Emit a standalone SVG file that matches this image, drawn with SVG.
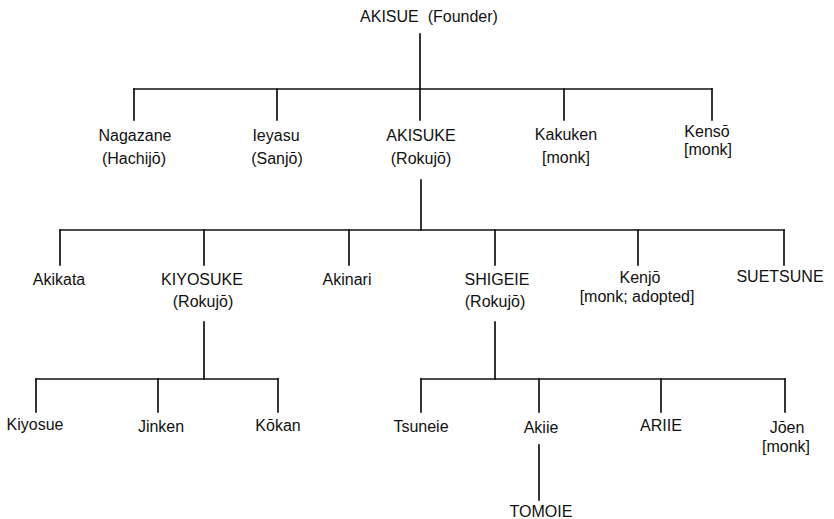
<svg xmlns="http://www.w3.org/2000/svg" width="834" height="519" viewBox="0 0 834 519">
<style>
text{font-family:"Liberation Sans",Arial,sans-serif;font-size:16px;fill:#111;text-anchor:middle}
.c line{stroke:#111;stroke-width:1.7;stroke-linecap:square}
</style>
<rect width="834" height="519" fill="#fff"/>
<g class="c" id="connectors">
<line x1="420" y1="34" x2="420" y2="89"/>
<line x1="134" y1="89" x2="712" y2="89"/>
<line x1="134" y1="89" x2="134" y2="120"/>
<line x1="277" y1="89" x2="277" y2="120"/>
<line x1="420" y1="89" x2="420" y2="120"/>
<line x1="564" y1="89" x2="564" y2="120"/>
<line x1="712" y1="89" x2="712" y2="120"/>
<line x1="421" y1="180" x2="421" y2="230"/>
<line x1="60" y1="230" x2="784" y2="230"/>
<line x1="60" y1="230" x2="60" y2="265"/>
<line x1="204" y1="230" x2="204" y2="265"/>
<line x1="349" y1="230" x2="349" y2="265"/>
<line x1="495" y1="230" x2="495" y2="265"/>
<line x1="638" y1="230" x2="638" y2="265"/>
<line x1="784" y1="230" x2="784" y2="265"/>
<line x1="204" y1="322" x2="204" y2="379"/>
<line x1="36" y1="379" x2="278" y2="379"/>
<line x1="36" y1="379" x2="36" y2="412"/>
<line x1="158" y1="379" x2="158" y2="412"/>
<line x1="278" y1="379" x2="278" y2="412"/>
<line x1="495" y1="322" x2="495" y2="379"/>
<line x1="421" y1="379" x2="785" y2="379"/>
<line x1="421" y1="379" x2="421" y2="412"/>
<line x1="539" y1="379" x2="539" y2="412"/>
<line x1="661" y1="379" x2="661" y2="412"/>
<line x1="785" y1="379" x2="785" y2="412"/>
<line x1="539" y1="445" x2="539" y2="500"/>
</g>
<g id="akisue"><text x="429" y="22" xml:space="preserve">AKISUE  (Founder)</text></g>
<g id="nagazane"><text x="135" y="141">Nagazane</text><text x="134" y="164">(Hachijō)</text></g>
<g id="ieyasu"><text x="276" y="141">Ieyasu</text><text x="277" y="164">(Sanjō)</text></g>
<g id="akisuke"><text x="421" y="141">AKISUKE</text><text x="421" y="164">(Rokujō)</text></g>
<g id="kakuken"><text x="566" y="140">Kakuken</text><text x="566" y="163">[monk]</text></g>
<g id="kenso"><text x="707" y="137">Kensō</text><text x="708" y="155">[monk]</text></g>
<g id="akikata"><text x="59" y="285">Akikata</text></g>
<g id="kiyosuke"><text x="202" y="285">KIYOSUKE</text><text x="203" y="307">(Rokujō)</text></g>
<g id="akinari"><text x="347" y="285">Akinari</text></g>
<g id="shigeie"><text x="497" y="285">SHIGEIE</text><text x="495" y="307">(Rokujō)</text></g>
<g id="kenjo"><text x="640" y="283">Kenjō</text><text x="637" y="302">[monk; adopted]</text></g>
<g id="suetsune"><text x="780" y="282">SUETSUNE</text></g>
<g id="kiyosue"><text x="35" y="430">Kiyosue</text></g>
<g id="jinken"><text x="161" y="432">Jinken</text></g>
<g id="kokan"><text x="278" y="431">Kōkan</text></g>
<g id="tsuneie"><text x="421" y="432">Tsuneie</text></g>
<g id="akiie"><text x="541" y="433">Akiie</text></g>
<g id="ariie"><text x="661" y="431">ARIIE</text></g>
<g id="joen"><text x="787" y="433">Jōen</text><text x="786" y="452">[monk]</text></g>
<g id="tomoie"><text x="541" y="517">TOMOIE</text></g>
</svg>
